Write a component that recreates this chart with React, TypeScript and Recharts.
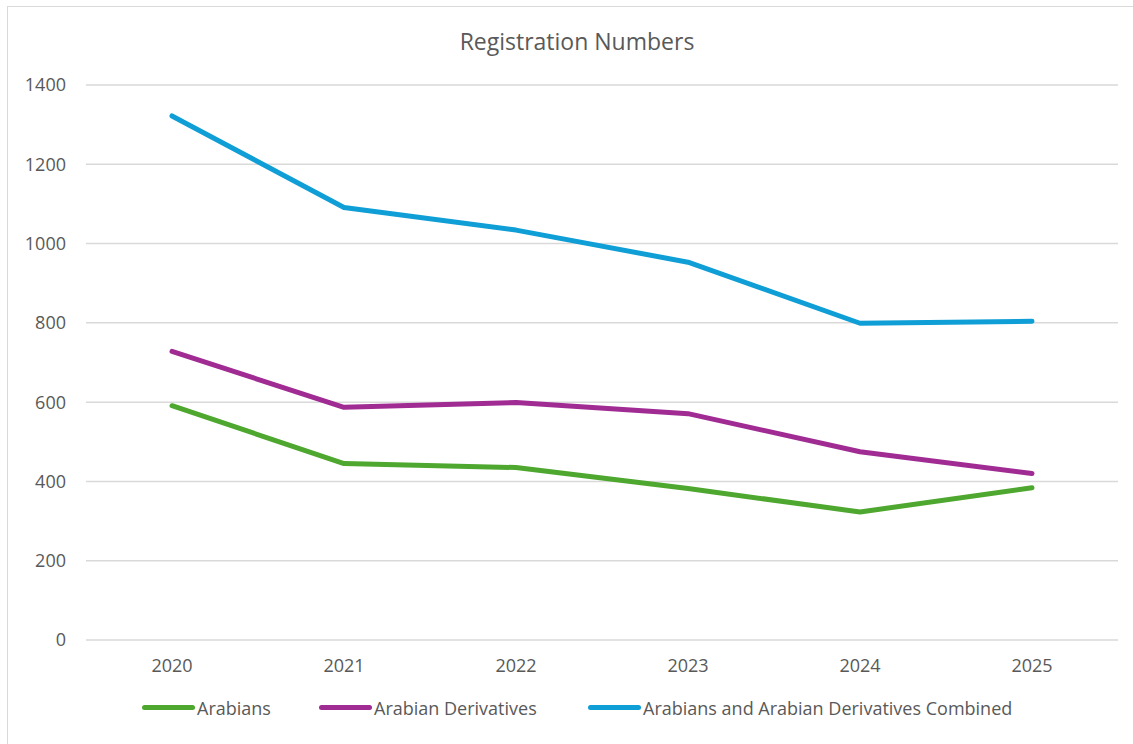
import React from "react";
import { LineChart, Line, XAxis, YAxis, CartesianGrid, Legend } from "recharts";

const years = ["2020", "2021", "2022", "2023", "2024", "2025"];
const arabians = [591, 445, 435, 382, 323, 384];
const derivatives = [728, 587, 599, 571, 475, 420];
const combined = [1322, 1091, 1034, 953, 799, 804];
const yTicks = [0, 200, 400, 600, 800, 1000, 1200, 1400];

const seriesNames = ["Arabians", "Arabian Derivatives", "Arabians and Arabian Derivatives Combined"];
const colors = ["#4EA72E", "#A02B93", "#0F9ED5"];
const legendItemWidths = [177, 269, 460];

const data = years.map((y, i) => ({
  year: y,
  a: arabians[i],
  d: derivatives[i],
  c: combined[i],
}));

const FONT = "'Open Sans', 'Liberation Sans', sans-serif";

const LegendContent = () => (
  <div style={{ display: "flex", alignItems: "center", fontFamily: FONT, fontSize: 18, color: "#595959", whiteSpace: "nowrap", height: 25 }}>
    {seriesNames.map((n, i) => (
      <div key={n} style={{ display: "flex", alignItems: "center", width: legendItemWidths[i] }}>
        <div style={{ width: 53, height: 5, borderRadius: 3, background: colors[i], marginRight: 2 }} />
        <span>{n}</span>
      </div>
    ))}
  </div>
);

export default function App() {
  return (
    <div style={{ position: "absolute", left: 7, top: 6, width: 1130, height: 745, border: "1px solid #d9d9d9", borderRight: "none", borderBottom: "none", background: "#fff" }}>
      <div style={{ position: "absolute", left: 0, width: 1138, top: 18, textAlign: "center", fontFamily: FONT, fontSize: 23, color: "#595959" }}>
        Registration Numbers
      </div>
      <LineChart width={1120} height={738} data={data} margin={{ top: 78, right: 10, bottom: 50, left: 0 }}>
        <CartesianGrid vertical={false} stroke="#d9d9d9" strokeWidth={1.5} />
        <XAxis dataKey="year" height={30} padding={{ left: 86, right: 86 }} axisLine={false} tickLine={false} tickSize={0} tickMargin={19} tick={{ fill: "#595959", fontSize: 18, fontFamily: FONT }} />
        <YAxis width={78} domain={[0, 1400]} ticks={yTicks} axisLine={false} tickLine={false} tickSize={0} tickMargin={20} tick={{ fill: "#595959", fontSize: 18, fontFamily: FONT }} />
        <Legend content={<LegendContent />} wrapperStyle={{ left: 134, top: 688, width: "auto", height: 25 }} />
        <Line dataKey="a" name={seriesNames[0]} stroke={colors[0]} strokeWidth={5} dot={false} isAnimationActive={false} strokeLinecap="round" strokeLinejoin="round" />
        <Line dataKey="d" name={seriesNames[1]} stroke={colors[1]} strokeWidth={5} dot={false} isAnimationActive={false} strokeLinecap="round" strokeLinejoin="round" />
        <Line dataKey="c" name={seriesNames[2]} stroke={colors[2]} strokeWidth={5} dot={false} isAnimationActive={false} strokeLinecap="round" strokeLinejoin="round" />
      </LineChart>
    </div>
  );
}
